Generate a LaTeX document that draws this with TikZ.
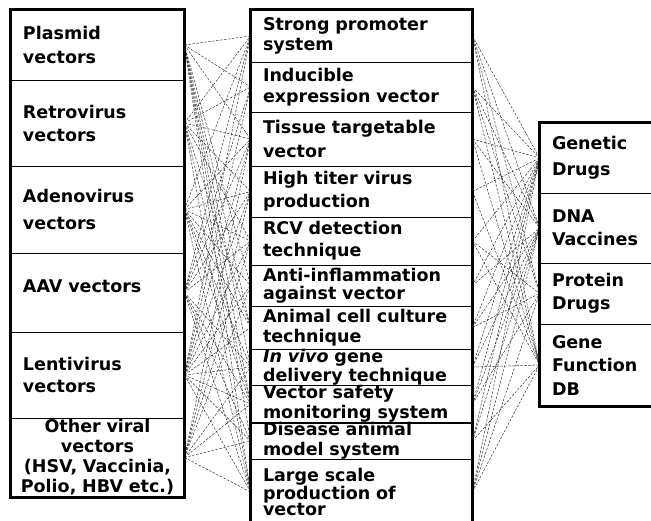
\documentclass[tikz,border=0pt]{standalone}
\usepackage{fontspec}
\setmainfont{DejaVu Sans}
\begin{document}
\begin{tikzpicture}[x=1pt,y=-1pt,
  lsp/.style={font=\fontsize{17.5}{#1}\selectfont\bfseries},
  cell/.style={draw,line width=0.9pt,inner xsep=12pt,inner ysep=0pt,align=left,anchor=center},
  vcell/.style={cell,text width=149pt},
  tcell/.style={cell,text width=197pt},
  acell/.style={cell,text width=116pt},
  frame/.style={line width=2.6pt},
  link/.style={line width=0.45pt,black!85,dash pattern=on 2.5pt off 1.5pt}]
  \useasboundingbox (0,0) rectangle (651,520);
  \clip (0,0) rectangle (651,520);
  \begin{scope}
    \node[vcell,lsp=24,minimum height=70pt] (v1) at (97.5,45) {Plasmid\\vectors};
    \node[vcell,lsp=23,minimum height=86pt] (v2) at (97.5,123) {Retrovirus\\vectors};
    \node[vcell,lsp=27,minimum height=87pt] (v3) at (97.5,209.5) {Adenovirus\\vectors};
    \node[vcell,lsp=20,minimum height=79pt,text depth=13pt] (v4) at (97.5,292.5) {AAV vectors};
    \node[vcell,lsp=22,minimum height=86pt] (v5) at (97.5,375) {Lentivirus\\vectors};
    \node[vcell,lsp=20,minimum height=79pt,align=center,inner xsep=4pt,text width=165pt] (v6) at (97.5,457.5) {Other viral\\vectors\\(HSV, Vaccinia,\\Polio, HBV etc.)};
  \end{scope}
  \begin{scope}
    \node[tcell,lsp=20,minimum height=52pt] (t1) at (361.5,36) {Strong promoter\\system};
    \node[tcell,lsp=21,minimum height=50pt] (t2) at (361.5,87) {Inducible\\expression vector};
    \node[tcell,lsp=24,minimum height=54pt] (t3) at (361.5,139) {Tissue targetable\\vector};
    \node[tcell,lsp=23,minimum height=51pt] (t4) at (361.5,191.5) {High titer virus\\production};
    \node[tcell,lsp=22,minimum height=48pt] (t5) at (361.5,241) {RCV detection\\technique};
    \node[tcell,lsp=18,minimum height=41pt] (t6) at (361.5,285.5) {Anti-inflammation\\against vector};
    \node[tcell,lsp=20,minimum height=43pt] (t7) at (361.5,327.5) {Animal cell culture\\technique};
    \node[tcell,lsp=19,minimum height=36pt] (t8) at (361.5,367) {\textit{In vivo} gene\\delivery technique};
    \node[tcell,lsp=20,minimum height=38pt] (t9) at (361.5,404) {Vector safety\\monitoring system};
    \node[tcell,lsp=20,minimum height=36pt] (t10) at (361.5,441) {Disease animal\\model system};
    \node[tcell,lsp=16.5,minimum height=66pt] (t11) at (361.5,492) {Large scale\\production of\\vector};
  \end{scope}
  \begin{scope}
    \node[acell,lsp=26,minimum height=70pt] (a1) at (610,158) {Genetic\\Drugs};
    \node[acell,lsp=23,minimum height=70pt] (a2) at (610,228) {DNA\\Vaccines};
    \node[acell,lsp=23,minimum height=61pt] (a3) at (610,293.5) {Protein\\Drugs};
    \node[acell,lsp=23.5,minimum height=82pt] (a4) at (610,365) {Gene\\Function\\DB};
  \end{scope}
  \foreach \v/\ts in {1/{1,2,3,6,7,8,9,10,11},2/{1,2,3,4,5,7,9,11},3/{1,3,4,5,6,7,8,9,11},
                      4/{1,2,3,4,5,8,9,10,11},5/{1,2,3,4,5,6,7,8,9,10,11},6/{3,4,5,6,8,9,10,11}}
    \foreach \t in \ts \draw[link] (v\v.east) -- (t\t.west);
  \foreach \a/\ts in {1/{1,...,11},2/{1,2,3,6,7,8,9,10,11},3/{1,2,5,7,9,11},4/{1,2,3,4,5,8,10,11}}
    \foreach \t in \ts \draw[link] (t\t.east) -- (a\a.west);
  \draw[frame] (v1.north west) rectangle (v6.south east);
  \draw[frame] (t11.south west) ++(0,20) -- (t1.north west) -- (t1.north east) -- ([yshift=-20pt]t11.south east);
  \draw[frame] (a1.north east) -- (a1.north west) -- (a4.south west) -- (a4.south east);
\end{tikzpicture}
\end{document}
